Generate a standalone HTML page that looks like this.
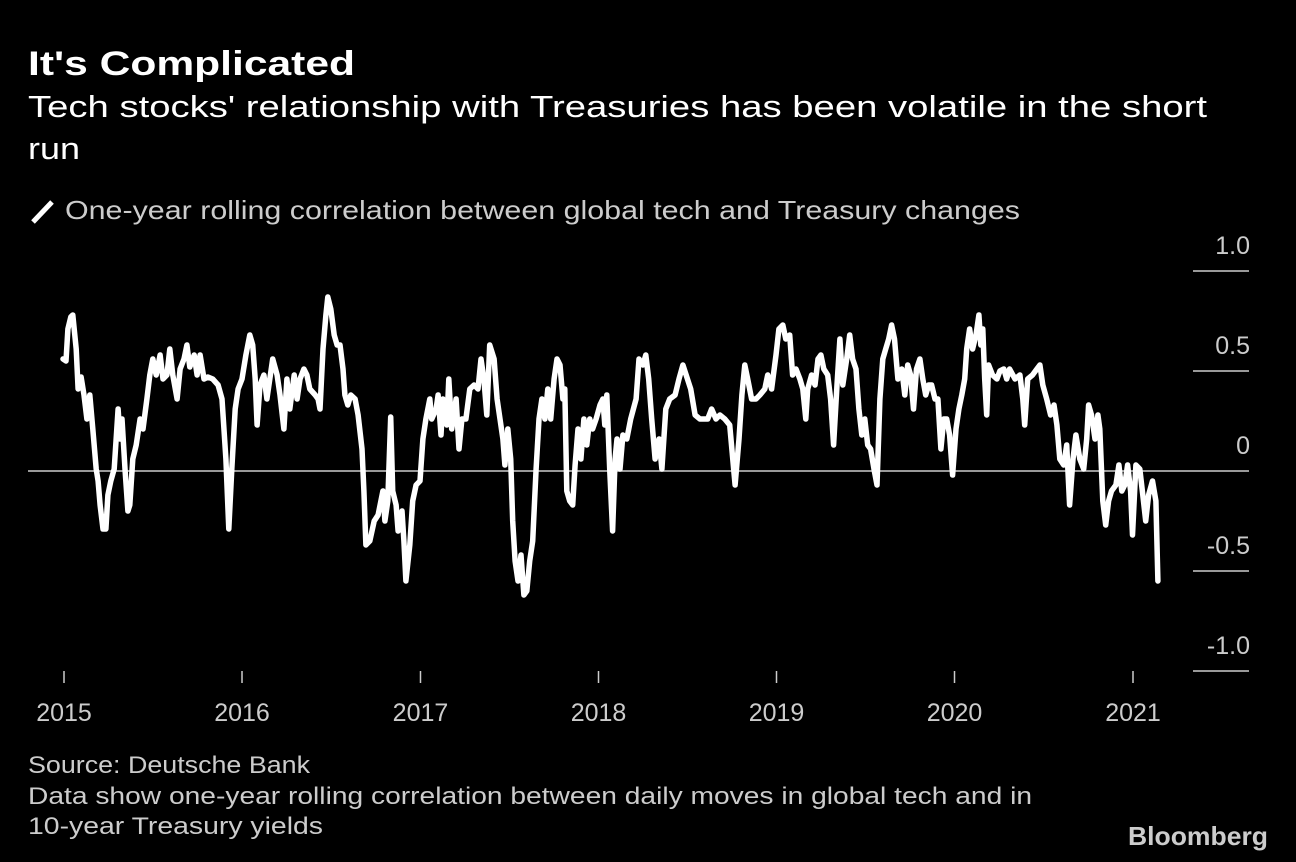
<!DOCTYPE html>
<html><head><meta charset="utf-8"><style>
html,body{margin:0;padding:0;background:#000;}
svg{display:block;font-family:"Liberation Sans",sans-serif;}
</style></head><body>
<svg id="chart" width="1296" height="862" viewBox="0 0 1296 862">
<rect width="1296" height="862" fill="#000"/>
<text x="28" y="75" fill="#fff" font-size="34" font-weight="bold" textLength="327" lengthAdjust="spacingAndGlyphs">It's Complicated</text>
<text x="28" y="117" fill="#fff" font-size="31" textLength="1179" lengthAdjust="spacingAndGlyphs">Tech stocks' relationship with Treasuries has been volatile in the short</text>
<text x="28" y="159" fill="#fff" font-size="31" textLength="52" lengthAdjust="spacingAndGlyphs">run</text>
<line x1="33" y1="222" x2="52" y2="202" stroke="#fff" stroke-width="5"/>
<text x="65" y="219" fill="#ccc" font-size="26" textLength="955" lengthAdjust="spacingAndGlyphs">One-year rolling correlation between global tech and Treasury changes</text>
<g id="axes"></g>
<g id="series"></g>
<text x="28" y="773" fill="#ccc" font-size="24" textLength="282" lengthAdjust="spacingAndGlyphs">Source: Deutsche Bank</text>
<text x="28" y="804" fill="#ccc" font-size="24" textLength="1004" lengthAdjust="spacingAndGlyphs">Data show one-year rolling correlation between daily moves in global tech and in</text>
<text x="28" y="834" fill="#ccc" font-size="24" textLength="295" lengthAdjust="spacingAndGlyphs">10-year Treasury yields</text>
<text x="1268" y="845" fill="#ccc" font-size="26" font-weight="bold" text-anchor="end" textLength="140" lengthAdjust="spacingAndGlyphs">Bloomberg</text>
</svg>
<script>
const days = [-2,4,8,14,18,25,29,35,41,47,53,59,66,70,74,80,86,90,96,103,111,115,119,125,131,135,141,148,156,162,170,176,182,189,197,203,211,217,223,232,238,246,252,258,267,273,279,287,295,305,316,324,332,338,344,351,357,365,373,381,387,392,396,402,410,416,422,428,437,443,451,457,463,472,478,484,492,498,504,515,521,525,531,537,541,547,554,560,566,572,576,582,588,597,603,611,615,619,627,636,644,654,658,664,670,674,681,685,693,697,701,709,715,722,730,736,742,750,754,763,767,773,777,785,789,795,804,810,816,824,832,841,849,855,861,867,873,882,888,894,900,904,910,916,920,925,931,937,943,949,955,961,968,974,980,986,992,998,1005,1011,1017,1023,1027,1031,1037,1043,1048,1054,1060,1066,1072,1078,1084,1091,1099,1105,1109,1113,1119,1125,1130,1134,1140,1146,1154,1162,1173,1179,1187,1193,1199,1205,1212,1220,1226,1234,1242,1253,1261,1269,1277,1285,1294,1304,1310,1320,1328,1337,1345,1355,1365,1376,1384,1390,1396,1402,1410,1419,1427,1437,1443,1451,1460,1466,1474,1480,1488,1494,1501,1509,1515,1521,1525,1533,1540,1546,1552,1558,1566,1572,1578,1585,1591,1597,1605,1611,1617,1624,1630,1636,1642,1648,1654,1661,1667,1673,1679,1685,1691,1697,1703,1710,1718,1724,1730,1736,1742,1748,1755,1761,1767,1773,1779,1786,1792,1798,1804,1810,1816,1822,1829,1835,1841,1847,1851,1857,1863,1870,1876,1880,1884,1888,1892,1896,1904,1913,1919,1927,1933,1939,1950,1960,1966,1970,1976,1986,1995,2001,2007,2015,2023,2030,2036,2042,2050,2056,2062,2069,2075,2083,2091,2097,2101,2107,2114,2120,2124,2130,2136,2142,2148,2157,2163,2169,2175,2181,2187,2191,2198,2206,2212,2218,2224,2232,2239,2243];
const corr = [.56,.55,.71,.77,.78,.61,.41,.47,.38,.26,.38,.21,.01,-.05,-.17,-.29,-.29,-.12,-.05,.01,.31,.16,.26,.01,-.2,-.17,.06,.13,.26,.21,.36,.48,.56,.48,.58,.46,.48,.61,.48,.36,.51,.56,.63,.52,.58,.48,.58,.46,.47,.46,.43,.36,.06,-.29,.01,.31,.41,.46,.58,.68,.63,.46,.23,.43,.48,.36,.46,.56,.48,.38,.21,.46,.31,.48,.36,.46,.51,.48,.41,.38,.36,.31,.61,.78,.87,.81,.68,.63,.63,.51,.38,.33,.38,.36,.28,.11,-.1,-.37,-.35,-.25,-.22,-.1,-.25,-.15,.27,-.1,-.17,-.3,-.2,-.35,-.55,-.37,-.15,-.07,-.05,.16,.26,.36,.26,.31,.38,.18,.36,.23,.46,.21,.36,.11,.26,.26,.41,.43,.41,.56,.46,.28,.63,.56,.36,.26,.16,.03,.21,.06,-.25,-.45,-.55,-.42,-.62,-.6,-.45,-.35,.01,.26,.36,.26,.41,.26,.46,.56,.53,.36,.41,-.1,-.15,-.17,.03,.21,.06,.26,.13,.26,.21,.26,.33,.36,.23,.38,.01,-.3,.06,.16,.01,.18,.16,.26,.36,.56,.53,.58,.46,.26,.06,.16,.01,.31,.36,.38,.46,.53,.47,.41,.28,.26,.26,.26,.31,.26,.28,.26,.23,-.07,.16,.38,.53,.46,.36,.36,.38,.41,.48,.41,.58,.71,.73,.66,.68,.48,.51,.46,.41,.26,.41,.48,.43,.56,.58,.51,.48,.36,.13,.43,.66,.43,.56,.68,.56,.51,.31,.18,.26,.13,.11,.01,-.07,.36,.56,.61,.66,.73,.66,.46,.51,.38,.53,.48,.31,.51,.56,.46,.38,.43,.43,.36,.36,.11,.26,.26,.18,-.02,.21,.31,.38,.46,.61,.71,.61,.68,.78,.63,.71,.46,.28,.53,.48,.46,.5,.51,.46,.51,.46,.48,.36,.23,.46,.48,.51,.53,.43,.36,.28,.33,.23,.06,.03,.13,-.17,.06,.18,.06,.01,.16,.33,.28,.16,.28,.21,-.15,-.27,-.15,-.1,-.07,.03,-.1,-.07,.03,-.1,-.32,.03,.01,-.12,-.25,-.12,-.05,-.15,-.55];
const yTicks = [1.0, 0.5, 0, -0.5, -1.0];
const yTickLabels = ["1.0", "0.5", "0", "-0.5", "-1.0"];
const xTickYears = [2015, 2016, 2017, 2018, 2019, 2020, 2021];

const NS = "http://www.w3.org/2000/svg";
const X0 = 64, PX_PER_DAY = (1133 - 64) / 2192;
function xScale(d){ return X0 + d * PX_PER_DAY; }
function yScale(v){ return 471 - v * 200; }
function yearToDay(y){ const ms = Date.UTC(y,0,1) - Date.UTC(2015,0,1); return ms / 86400000; }
function mk(tag, attrs){ const e = document.createElementNS(NS, tag); for (const k in attrs) e.setAttribute(k, attrs[k]); return e; }
const axes = document.getElementById('axes');
const series = document.getElementById('series');

yTicks.forEach((v, i) => {
  const y = yScale(v);
  if (v === 0) {
    const zl = mk('line', {x1: 28, x2: 1249, y1: y, y2: y, stroke: '#ccc', 'stroke-width': 1.5});
    
    
    axes.appendChild(zl);
  } else {
    const tl = mk('line', {x1: 1193, x2: 1249, y1: y, y2: y, stroke: '#ccc', 'stroke-width': 1.5});
    
    
    axes.appendChild(tl);
  }
  const t = mk('text', {x: 1250, y: y - 17, fill: '#ccc', 'font-size': 25, 'text-anchor': 'end'});
  t.textContent = yTickLabels[i];
  
  
  axes.appendChild(t);
});

xTickYears.forEach(yr => {
  const x = xScale(yearToDay(yr));
  const tk = mk('line', {x1: x, x2: x, y1: 671, y2: 683, stroke: '#ccc', 'stroke-width': 1.5});
  
  
  axes.appendChild(tk);
  const t = mk('text', {x: x, y: 721, fill: '#ccc', 'font-size': 25, 'text-anchor': 'middle'});
  t.textContent = String(yr);
  
  
  axes.appendChild(t);
});

let d = '';
days.forEach((dd, i) => { d += (i ? 'L' : 'M') + xScale(dd).toFixed(1) + ' ' + yScale(corr[i]).toFixed(1); });
const path = mk('path', {d: d, fill: 'none', stroke: '#fff', 'stroke-width': 5.5, 'stroke-linejoin': 'round', 'stroke-linecap': 'round'});


series.appendChild(path);
</script>
</body></html>
